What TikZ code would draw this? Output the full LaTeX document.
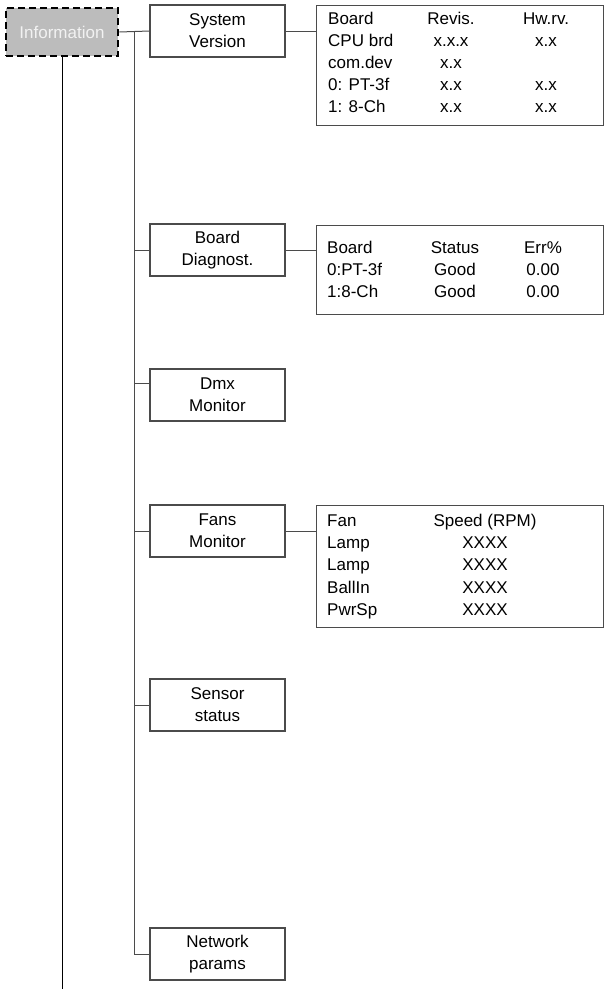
\documentclass[tikz,border=0pt]{standalone}
\usepackage{fontspec}
\setmainfont{Liberation Sans}
\usetikzlibrary{positioning}
\definecolor{MenuGray}{RGB}{188,188,188}
\definecolor{LineGray}{RGB}{75,75,75}
\definecolor{TextLight}{RGB}{242,242,242}

\begin{document}
\begin{tikzpicture}[x=1pt,y=-1pt,
    menubox/.style={draw=LineGray,line width=1.2pt,minimum width=135pt,minimum height=52pt,
      inner sep=0pt,align=center,font=\fontsize{17}{22}\selectfont},
    infobox/.style={draw=black,fill=MenuGray,line width=2.6pt,dash pattern=on 7pt off 4pt,
      minimum width=112pt,minimum height=48pt,inner sep=0pt,text=TextLight,
      font=\fontsize{17}{22}\selectfont},
    tablebox/.style={draw=LineGray,line width=1.2pt,anchor=north west,minimum width=287pt,inner sep=0pt},
    cell/.style={font=\fontsize{17}{22}\selectfont,inner sep=0pt,text height=12pt,text depth=3.5pt},
    link/.style={draw=LineGray,line width=1pt}]
  \useasboundingbox (0,0) rectangle (605,989);
  % menu column
  \node[infobox] (info) at (62,32) {Information};
  \node[menubox] (sysver) at (217.5,31) {System\\Version};
  \node[menubox] (diag) at (217.5,250) {Board\\Diagnost.};
  \node[menubox] (dmx) at (217.5,395) {Dmx\\Monitor};
  \node[menubox] (fans) at (217.5,531) {Fans\\Monitor};
  \node[menubox] (sensor) at (217.5,705) {Sensor\\status};
  \node[menubox] (netw) at (217.5,954) {Network\\params};
  \coordinate (trunk) at (134,32);
  \coordinate (tail) at (62,989);
  \coordinate (dmxin) at ([yshift=12pt]dmx.west);
  % tables
  \node[tablebox,minimum height=120pt] (vers) at (316,5) {};
  \foreach \y/\a/\b/\c in {20/Board/Revis./Hw.rv.,42/CPU brd/x.x.x/x.x,64/com.dev/x.x/,
      86/0: PT-3f/x.x/x.x,108/1: 8-Ch/x.x/x.x}{
    \node[cell,anchor=west] (versa\y) at (328,\y) {\a};
    \node[cell] (versb\y) at (451,\y) {\b};
    \node[cell] (versc\y) at (546,\y) {\c};}
  \node[tablebox,minimum height=89pt] (diagtab) at (316,225) {};
  \foreach \y/\a/\b/\c in {249/Board/Status/Err\%,271/0:PT-3f/Good/0.00,293/1:8-Ch/Good/0.00}{
    \node[cell,anchor=west] (diaga\y) at (327,\y) {\a};
    \node[cell] (diagb\y) at (455,\y) {\b};
    \node[cell] (diagc\y) at (543,\y) {\c};}
  \node[tablebox,minimum height=122pt] (fantab) at (316,505) {};
  \foreach \y/\a/\b in {522/Fan/Speed (RPM),544/Lamp/XXXX,566/Lamp/XXXX,589/BallIn/XXXX,611/PwrSp/XXXX}{
    \node[cell,anchor=west] (fana\y) at (327,\y) {\a};
    \node[cell] (fanb\y) at (485,\y) {\b};}
  % connectors
  \draw[line width=1pt] (info.south) -- (tail);
  \draw[link] (info.east) -- (sysver.west);
  \draw[link] (trunk) |- (netw.west);
  \foreach \n in {diag,fans,sensor}
    \draw[link] (trunk |- \n.west) -- (\n.west);
  \draw[link] (trunk |- dmxin) -- (dmxin);
  \draw[link] (sysver.east) -- (sysver.east -| vers.west);
  \draw[link] (diag.east) -- (diag.east -| diagtab.west);
  \draw[link] (fans.east) -- (fans.east -| fantab.west);
\end{tikzpicture}
\end{document}
